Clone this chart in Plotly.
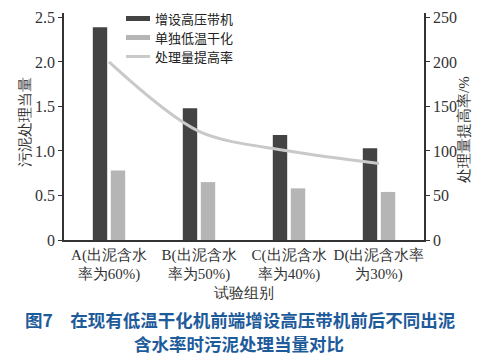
import plotly.graph_objects as go

categories = ["A(出泥含水<br>率为60%)", "B(出泥含水<br>率为50%)", "C(出泥含水<br>率为40%)", "D(出泥含水率<br>为30%)"]
with_press = [2.39, 1.48, 1.18, 1.03]
dry_only = [0.78, 0.65, 0.58, 0.54]
increase_rate = [200, 122, 100, 86]
left_ticks = [0, 0.5, 1.0, 1.5, 2.0, 2.5]
left_ticktext = ["0", "0.5", "1.0", "1.5", "2.0", "2.5"]
right_ticks = [0, 50, 100, 150, 200, 250]
legend_names = ["增设高压带机", "单独低温干化", "处理量提高率"]

DARK = "#434343"
LIGHT = "#b5b5b5"
LINE = "#c9c9c9"
SERIF = "Liberation Serif, Times New Roman, serif"
TXT = "#333"

OFF = 8  # page body margin
W, H = 488 - OFF, 362 - OFF
# plot area in page pixels: x 64..424, y 13..240
ML, MT = 64 - OFF, 13 - OFF
MR = 488 - 424
MB = 362 - 240
PW, PH = W - ML - MR, H - MT - MB

def px_x(p):
    return (p - OFF - ML) / PW

def px_y(p):
    return (H + OFF - MB - p) / PH

fig = go.Figure()
fig.add_trace(go.Bar(x=categories, y=with_press, marker_color=DARK, name=legend_names[0]))
fig.add_trace(go.Bar(x=categories, y=dry_only, marker_color=LIGHT, name=legend_names[1]))
fig.add_trace(go.Scatter(x=categories, y=increase_rate, yaxis="y2", mode="lines",
                         line=dict(color=LINE, width=3, shape="spline", smoothing=0.9),
                         name=legend_names[2]))

# manual legend (line swatches + text)
shapes = []
annotations = []
legend_colors = [DARK, LIGHT, LINE]
legend_widths = [5, 5, 3]
for i, (nm, col, lw) in enumerate(zip(legend_names, legend_colors, legend_widths)):
    yy = px_y(18.5 + i * 19)
    shapes.append(dict(type="line", xref="paper", yref="paper", x0=px_x(126), x1=px_x(150),
                       y0=yy, y1=yy, line=dict(color=col, width=lw)))
    annotations.append(dict(text=nm, xref="paper", yref="paper", x=px_x(153), y=yy,
                            xanchor="left", yanchor="middle", showarrow=False,
                            font=dict(size=13, color="#222", family="Noto Sans CJK SC")))

annotations.append(dict(text="<b>图7　在现有低温干化机前端增设高压带机前后不同出泥</b>", x=px_x(240), y=px_y(319),
                        xref="paper", yref="paper", showarrow=False, yanchor="middle",
                        font=dict(size=17.5, color="#1e5b9b", family="Noto Sans CJK SC")))
annotations.append(dict(text="<b>含水率时污泥处理当量对比</b>", x=px_x(239), y=px_y(343),
                        xref="paper", yref="paper", showarrow=False, yanchor="middle",
                        font=dict(size=17.5, color="#1e5b9b", family="Noto Sans CJK SC")))
annotations.append(dict(text="试验组别", x=px_x(244), y=px_y(293), xref="paper", yref="paper",
                        showarrow=False, yanchor="middle",
                        font=dict(size=15, color=TXT, family=SERIF)))
annotations.append(dict(text="污泥处理当量", x=px_x(25), y=px_y(122), xref="paper", yref="paper",
                        showarrow=False, textangle=-90, xanchor="center", yanchor="middle",
                        font=dict(size=15, color=TXT, family=SERIF)))
annotations.append(dict(text="处理量提高率/%", x=px_x(464), y=px_y(130), xref="paper", yref="paper",
                        showarrow=False, textangle=-90, xanchor="center", yanchor="middle",
                        font=dict(size=15, color=TXT, family=SERIF)))

fig.update_layout(
    width=W, height=H,
    template="none",
    margin=dict(l=ML, r=MR, t=MT, b=MB),
    paper_bgcolor="white", plot_bgcolor="white",
    barmode="group", bargap=0.6, bargroupgap=0.2,
    showlegend=False,
    font=dict(family=SERIF, size=15, color=TXT),
    shapes=shapes,
    annotations=annotations,
    xaxis=dict(showline=True, linecolor=TXT, linewidth=1.5, ticks="", showgrid=False,
               automargin=False, tickangle=0,
               tickfont=dict(size=15, color=TXT, family=SERIF)),
    yaxis=dict(range=[0, 2.55], tickvals=left_ticks, ticktext=left_ticktext, showline=True,
               linecolor=TXT, linewidth=1.5, ticks="outside", ticklen=4, tickcolor=TXT,
               showgrid=False, zeroline=False, automargin=False,
               tickfont=dict(size=16, color=TXT, family=SERIF)),
    yaxis2=dict(range=[0, 255], tickvals=right_ticks, overlaying="y", side="right", showline=True,
                linecolor=TXT, linewidth=1.5, ticks="outside", ticklen=4, tickcolor=TXT,
                showgrid=False, zeroline=False, automargin=False,
                tickfont=dict(size=16, color=TXT, family=SERIF)),
)

fig.write_html("out.html")
